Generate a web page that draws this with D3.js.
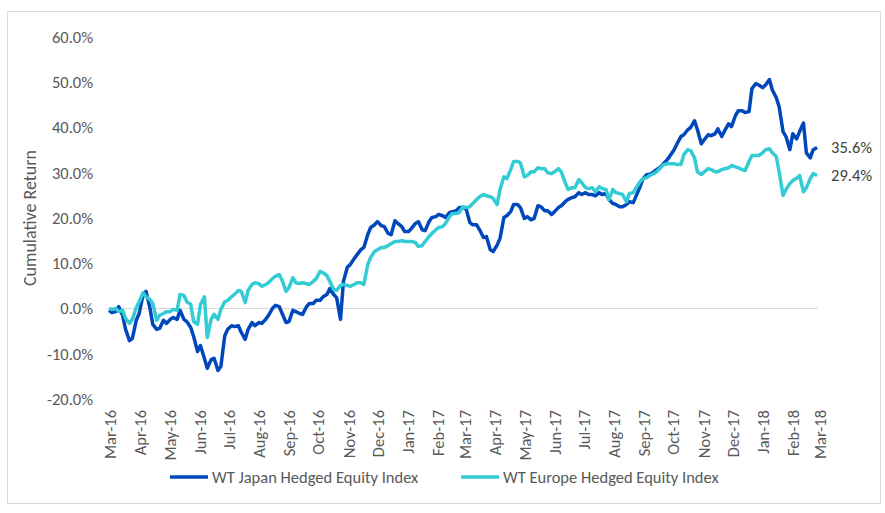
<!DOCTYPE html>
<html>
<head>
<meta charset="utf-8">
<script src="https://cdn.jsdelivr.net/npm/d3@7"></script>
<style>
  body { margin: 0; background: #fff; }
  svg text { font-family: Carlito, Calibri, Lato, sans-serif; }
</style>
</head>
<body>
<div id="chart"></div>
<script>
// twice-weekly observations (Mon & Thu), 29 Feb 2016 to 26 Feb 2018
const dates = d3.timeDay.range(new Date(2016, 1, 29), new Date(2018, 1, 27))
    .filter(d => d.getDay() === 1 || d.getDay() === 4);

// cumulative return, %
const japan = [
  -0.4, -0.9, -0.7, 0.4, -1.5, -4.6, -7.1, -6.6, -2.6, -1.1,
  3.0, 3.8, 0.2, -3.5, -4.6, -4.4, -2.6, -3.3, -2.4, -2.0,
  -2.4, -0.4, -2.4, -2.9, -4.2, -6.2, -9.5, -8.2, -11.0, -13.2,
  -11.3, -11.0, -13.7, -12.8, -6.0, -4.6, -3.8, -4.0, -3.8, -5.3,
  -6.8, -4.6, -3.1, -3.8, -3.1, -3.3, -2.4, -1.5, 0.0, 0.7,
  0.4, -1.1, -3.1, -2.9, -0.4, -0.7, -1.1, -1.3, 0.4, 1.1,
  1.1, 1.8, 1.8, 2.6, 3.1, 4.4, 3.1, 2.4, -2.4, 6.0,
  9.1, 9.7, 11.0, 11.9, 13.0, 13.5, 16.3, 17.9, 18.5, 19.2,
  18.3, 18.1, 16.6, 16.3, 19.4, 18.8, 18.1, 17.0, 17.0, 17.7,
  18.8, 19.2, 17.4, 17.2, 19.2, 20.1, 20.3, 20.8, 20.5, 20.1,
  21.2, 21.4, 21.6, 22.3, 22.3, 22.1, 19.0, 18.5, 18.5, 17.4,
  15.7, 15.9, 13.0, 12.6, 14.0, 15.5, 20.1, 20.5, 21.4, 23.0,
  23.0, 22.3, 19.9, 20.3, 19.6, 19.9, 22.7, 22.5, 21.6, 21.6,
  20.8, 21.4, 22.3, 22.7, 23.6, 24.1, 24.5, 24.7, 25.6, 25.2,
  25.6, 25.2, 25.2, 24.9, 25.6, 25.2, 25.4, 24.1, 23.2, 23.0,
  22.5, 22.5, 23.0, 23.6, 23.4, 24.9, 26.9, 28.7, 29.6, 29.6,
  30.2, 30.7, 31.3, 32.0, 32.9, 33.8, 35.1, 36.4, 38.0, 38.4,
  39.5, 40.0, 41.5, 39.5, 36.4, 37.3, 38.4, 38.2, 38.6, 39.7,
  38.0, 39.3, 40.8, 40.2, 42.6, 43.7, 43.7, 43.3, 43.5, 48.6,
  49.7, 49.4, 48.8, 49.4, 50.6, 48.3, 46.6, 44.6, 39.1, 38.0,
  35.1, 38.6, 37.5, 39.1, 41.0, 34.4, 33.3, 35.1, 35.6
];
const europe = [
  0.0, -0.2, 0.0, -0.7, -0.4, -2.2, -3.3, -2.4, 0.2, 1.5,
  3.5, 2.6, 2.0, 1.1, -2.6, -1.5, -1.1, -0.7, -0.7, -0.2,
  -0.4, 3.1, 2.9, 1.5, 0.9, -2.9, -3.5, 0.9, 2.6, -6.4,
  -2.4, -1.3, -2.4, -0.2, 1.5, 1.8, 2.6, 3.1, 4.0, 3.8,
  1.3, 4.0, 5.3, 5.7, 5.5, 4.9, 5.3, 5.7, 6.6, 7.1,
  7.5, 6.2, 3.8, 4.6, 6.8, 5.7, 5.5, 5.7, 5.5, 5.3,
  6.0, 6.6, 8.2, 7.9, 7.3, 6.0, 4.2, 4.0, 5.1, 5.3,
  5.1, 4.9, 5.3, 5.7, 5.7, 5.3, 9.7, 11.3, 12.6, 13.0,
  13.5, 13.5, 13.9, 14.3, 14.8, 14.8, 15.0, 14.8, 14.8, 14.8,
  14.6, 13.7, 13.9, 14.8, 15.9, 16.6, 17.4, 17.9, 18.1, 18.8,
  20.3, 21.0, 21.0, 21.2, 22.5, 22.3, 22.5, 23.2, 24.1, 24.7,
  25.2, 24.9, 24.7, 24.3, 23.0, 26.3, 29.1, 28.7, 30.7, 32.5,
  32.5, 32.2, 29.1, 29.4, 30.2, 30.2, 31.1, 30.9, 30.9, 30.0,
  29.8, 30.2, 30.9, 30.2, 27.8, 26.3, 26.7, 26.7, 28.5, 27.8,
  26.7, 26.5, 26.7, 25.8, 26.9, 26.5, 26.3, 24.1, 26.3, 25.6,
  25.4, 25.2, 23.6, 25.4, 25.6, 26.7, 28.0, 28.7, 28.9, 29.4,
  29.8, 30.2, 31.1, 31.8, 32.0, 32.0, 32.0, 31.8, 31.8, 34.0,
  35.1, 34.9, 33.3, 30.2, 29.6, 30.2, 30.9, 30.7, 30.2, 30.2,
  30.7, 30.9, 31.1, 31.6, 31.3, 31.1, 30.7, 30.5, 32.5, 33.8,
  33.8, 33.8, 34.4, 35.1, 35.3, 34.4, 33.6, 30.2, 25.0, 26.3,
  27.6, 28.3, 28.8, 29.4, 25.8, 26.7, 28.7, 29.8, 29.4
];

const seriesNames = ["WT Japan Hedged Equity Index", "WT Europe Hedged Equity Index"];
const seriesColors = ["#0047bb", "#33ccd4"];
const yTicks = [-20, -10, 0, 10, 20, 30, 40, 50, 60];
const monthTicks = d3.timeMonth.range(new Date(2016, 2, 1), new Date(2018, 2, 2));

const width = 885, height = 513;
const plot = { left: 107, right: 818, top: 37, bottom: 399 };
const fontSize = "16.5px";

const svg = d3.select("#chart").append("svg")
    .attr("width", width)
    .attr("height", height);

svg.append("rect")
    .attr("x", 7.5).attr("y", 11.5)
    .attr("width", 873).attr("height", 492)
    .attr("fill", "#fff")
    .attr("stroke", "#d9d9d9");

const x = d3.scaleTime()
    .domain([new Date(2016, 2, 1), new Date(2018, 2, 1)])
    .range([110, 820]);
const y = d3.scaleLinear().domain([-20, 60]).range([plot.bottom, plot.top]);

// zero line
svg.append("line")
    .attr("x1", plot.left).attr("x2", plot.right)
    .attr("y1", y(0)).attr("y2", y(0))
    .attr("stroke", "#d9d9d9").attr("stroke-width", 1);

const yAxis = svg.append("g")
    .attr("transform", `translate(${plot.left},0)`)
    .call(d3.axisLeft(y).tickValues(yTicks).tickSize(0).tickPadding(14)
        .tickFormat(d => d.toFixed(1) + "%"));
yAxis.select(".domain").remove();
yAxis.selectAll("text").style("font-size", fontSize).attr("fill", "#595959");

const xAxis = svg.append("g")
    .attr("transform", "translate(0,410)")
    .call(d3.axisBottom(x).tickValues(monthTicks).tickSize(0)
        .tickFormat(d3.timeFormat("%b-%y")));
xAxis.select(".domain").remove();
xAxis.selectAll("text")
    .attr("x", 0).attr("y", 0).attr("dy", "0.35em")
    .attr("transform", "rotate(-90)")
    .style("text-anchor", "end")
    .style("font-size", fontSize)
    .attr("fill", "#595959");

svg.append("text")
    .attr("transform", "translate(30,218) rotate(-90)")
    .attr("text-anchor", "middle")
    .attr("dy", "0.35em")
    .style("font-size", "18px")
    .attr("fill", "#595959")
    .text("Cumulative Return");

const line = d3.line()
    .x((d, i) => x(dates[i]))
    .y(d => y(d));

[japan, europe].forEach((values, s) => {
  svg.append("path")
      .datum(values)
      .attr("fill", "none")
      .attr("stroke", seriesColors[s])
      .attr("stroke-width", 3.5)
      .attr("stroke-linejoin", "round")
      .attr("d", line);

  const last = values.length - 1;
  svg.append("text")
      .attr("x", x(dates[last]) + 14)
      .attr("y", y(values[last]))
      .attr("dy", "0.35em")
      .style("font-size", fontSize)
      .attr("fill", "#404040")
      .text(values[last].toFixed(1) + "%");
});

// legend
const legendX = [170, 461];
seriesNames.forEach((name, s) => {
  const g = svg.append("g").attr("transform", `translate(${legendX[s]},477)`);
  g.append("line")
      .attr("x1", 0).attr("x2", 38)
      .attr("stroke", seriesColors[s])
      .attr("stroke-width", 3.5);
  g.append("text")
      .attr("x", 42)
      .attr("dy", "0.35em")
      .style("font-size", fontSize)
      .attr("fill", "#595959")
      .text(name);
});
</script>
</body>
</html>
